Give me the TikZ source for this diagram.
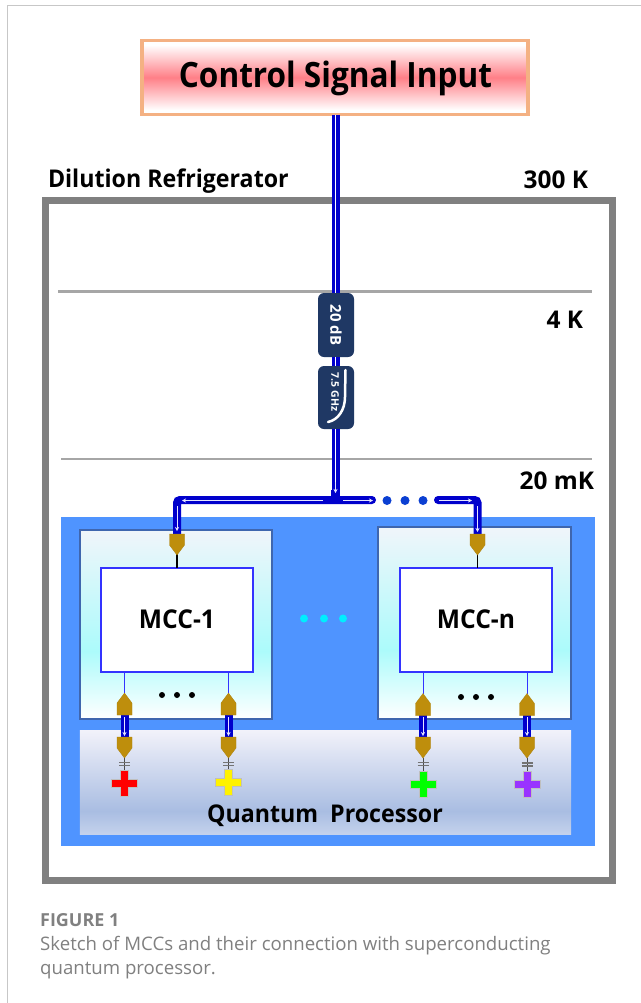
\documentclass[tikz,border=0pt]{standalone}
\usepackage{fontspec}
\setmainfont{Open Sans}
\newfontfamily\labfont[FakeStretch=0.95]{Open Sans}
\newfontfamily\ctrlfont[FakeStretch=0.905]{Open Sans}
\usetikzlibrary{arrows.meta,calc}
\definecolor{wireblue}{HTML}{0000CC}
\definecolor{panelblue}{HTML}{4F94FF}
\definecolor{gold}{HTML}{BE8E0C}
\definecolor{navy}{HTML}{1F3864}
\definecolor{capgray}{HTML}{808080}
\definecolor{qpb}{HTML}{C4D2EC}
\definecolor{qpm}{HTML}{A9BDE2}
\definecolor{qpt}{HTML}{F2F2FA}
\definecolor{ctrlpink}{HTML}{FF7F87}
\definecolor{ctrledge}{HTML}{F4B183}
\definecolor{mcccyan}{HTML}{ACFBFB}
\definecolor{mcctop}{HTML}{F0F5FA}
\definecolor{mccedge}{HTML}{3F66AE}
\definecolor{purplequbit}{HTML}{9933FF}
\definecolor{dotcyan}{HTML}{00EEFF}
\definecolor{dotblue}{HTML}{0B3FD2}
\pgfdeclareverticalshading{ctrlshade}{100bp}{color(0bp)=(white); color(25bp)=(white); color(28bp)=(white); color(50bp)=(ctrlpink); color(72bp)=(white); color(75bp)=(white); color(100bp)=(white)}
\pgfdeclareverticalshading{mccshade}{100bp}{color(0bp)=(white); color(25bp)=(white); color(43bp)=(mcccyan); color(75bp)=(mcctop); color(100bp)=(mcctop)}
\pgfdeclareverticalshading{qpshade}{100bp}{color(0bp)=(qpb); color(25bp)=(qpb); color(36bp)=(qpm); color(75bp)=(qpt); color(100bp)=(qpt)}
\tikzset{
  box/.style={rectangle,inner sep=0pt,outer sep=0pt},
  label/.style={inner sep=0pt,outer sep=0pt,font=\labfont\bfseries\fontsize{24.5}{28}\selectfont},
  templabel/.style={inner sep=0pt,outer sep=0pt,anchor=east,font=\bfseries\fontsize{24.5}{28}\selectfont},
  level/.style={draw=black!35,line width=2.5bp},
  mainwire/.style={draw=wireblue,line width=3.2bp,double=white,double distance=1.6bp},
  thick wire/.style={draw=wireblue,line width=8bp},
  flow/.style={draw=white!90!blue,line width=0.5bp,-{Stealth[length=4bp,width=4bp]}},
  hair/.style={draw=blue!80!white,line width=1bp},
  goldpart/.style={fill=gold,draw=gold!90!black,line width=0.3bp},
  mccbox/.style={box,draw=mccedge,line width=1.5bp,shading=mccshade},
  mccin/.style={box,draw=blue!80!white,line width=1.2bp,fill=white,minimum width=152bp,minimum height=104bp,font=\labfont\bfseries\fontsize{26}{28}\selectfont},
  plate/.style={draw=black!55,line width=1.3bp},
  dot/.style={circle,inner sep=0pt,outer sep=0pt,minimum size=#1},
  tag/.style={rounded corners=6bp,box,fill=navy,minimum width=36bp,minimum height=64bp,text=white},
  captext/.style={anchor=base west,inner sep=0pt,text=capgray,font=\fontsize{18.7}{20}\selectfont}
}
% x, prefix, MCC node, colour, cross top y, tip y, first plate y
\newcommand{\chainlink}[7]{%
  \coordinate (#2a) at (#1,#6);
  \coordinate (#2b) at (#1,715);
  \coordinate (#2c) at (#1,737);
  \coordinate (#2d) at (#1,758);
  \coordinate (#2e) at (#1,#5);
  \draw[hair] (#2a |- #3.south) -- (#2a);
  \draw[thick wire] (#2b) -- (#2c);
  \draw[flow] ($(#2b)+(0,2)$) -- ($(#2c)+(0,-1)$);
  \draw[goldpart] (#2a) -- ++(7.5,10) -- ++(0,12) -- ++(-15,0) -- ++(0,-12) -- cycle;
  \draw[goldpart] (#2d) -- ++(7.5,-10) -- ++(0,-11) -- ++(-15,0) -- ++(0,11) -- cycle;
  \draw[draw=black!70,line width=0.8bp] (#2d) -- (#2e);
  \draw[plate] (#1-5.5,#7) -- ++(11,0);
  \draw[plate] (#1-5.5,#7+3) -- ++(11,0);
  \draw[draw=black!25,fill=#4,line width=0.5bp] ($(#2e)+(-4,0)$) -- ++(8,0) -- ++(0,9) -- ++(9,0) -- ++(0,8) -- ++(-9,0) -- ++(0,9) -- ++(-8,0) -- ++(0,-9) -- ++(-9,0) -- ++(0,-8) -- ++(9,0) -- cycle;
}
\begin{document}
\begin{tikzpicture}[x=1bp,y=-1bp]
\useasboundingbox (0,0) rectangle (641,1003);
\fill[white] (0,0) rectangle (641,1003);
\coordinate (pagea) at (7.5,1003);
\coordinate (pageb) at (7.5,5.5);
\coordinate (pagec) at (641,5.5);
\draw[black!22,line width=1bp] (pagea) -- (pageb) -- (pagec);

\node[box,shading=ctrlshade,draw=ctrledge,line width=3.5bp,minimum width=386bp,minimum height=74bp] (ctrl) at (335,77.5) {};
\node[inner sep=0pt,outer sep=0pt,font=\ctrlfont\bfseries\fontsize{35}{38}\selectfont] (ctrltext) at (335.5,78) {Control Signal Input};
\node[label,anchor=west] (dil) at (48,181) {Dilution Refrigerator};
\node[templabel] (t300) at (588,180) {300 K};
\node[templabel] (t4) at (583,320) {4 K};
\node[templabel] (t20) at (594,481) {20 mK};

\node[box,draw=black!50,line width=7bp,minimum width=567bp,minimum height=680bp] (fridge) at (329,540.5) {};
\coordinate (l4a) at (58,291.5); \coordinate (l4b) at (592,291.5);
\coordinate (l20a) at (61,459); \coordinate (l20b) at (592,459);
\draw[level] (l4a) -- (l4b);
\draw[level] (l20a) -- (l20b);

\node[box,fill=panelblue,minimum width=534bp,minimum height=329bp] (panel) at (328,681.5) {};
\node[mccbox,minimum width=192bp,minimum height=189bp] (outer1) at (176,624.5) {};
\node[mccbox,minimum width=193bp,minimum height=192bp] (outern) at (474.5,623) {};
\node[box,shading=qpshade,minimum width=491bp,minimum height=104bp] (qp) at (325.5,782) {};
\node[label] (qptext) at (325,816) {Quantum\ \ Processor};
\node[mccin] (mcc1) at (177,620) {\raisebox{2pt}{MCC-1}};
\node[mccin] (mccn) at (476,620) {\raisebox{2pt}{MCC-n}};
\node[dot=8bp,fill=dotcyan] (c1) at (304,618.5) {};
\node[dot=8bp,fill=dotcyan] (c2) at (324,618.5) {};
\node[dot=8bp,fill=dotcyan] (c3) at (343,618.5) {};
\foreach \n/\x/\y in {a1/162/695,a2/177/695,a3/192/695,b1/461/697,b2/476/697,b3/491/697}
  \node[dot=6bp,fill=black] (\n) at (\x,\y) {};

% main wire
\coordinate (j) at (335.5,500);
\node[tag] (att) at (336,325) {};
\node[box,text=white,font=\bfseries\fontsize{15}{17}\selectfont,rotate=-90] (atttext) at (336,325) {20 dB};
\node[tag,minimum height=63bp] (fil) at (336,397.5) {};
\node[box,text=white,font=\bfseries\fontsize{10.5}{12}\selectfont,rotate=-90] (filtext) at (335,392) {7.5 GHz};
\coordinate (fa) at (345.5,370); \coordinate (fb) at (328,422);
\draw[white,line width=2.5bp,line cap=round] (fa) -- (345,397) .. controls (345,410) and (338,420) .. (fb);
\draw[mainwire] (ctrl.south -| j) -- (att.north -| j);
\draw[mainwire] (att.south -| j) -- (fil.north -| j);
\draw[mainwire] (fil.south -| j) -- (j);

% bus
\coordinate (tl) at (177,534);
\coordinate (cl) at (177,500);
\coordinate (bl) at (372,500);
\coordinate (br) at (438,500);
\coordinate (cr) at (477.5,500);
\coordinate (tr) at (477.5,534);
\draw[thick wire,rounded corners=3bp,line cap=round] (bl) -- (cl) -- (tl);
\draw[thick wire,rounded corners=3bp,line cap=round] (br) -- (cr) -- (tr);
\fill[wireblue] (331,490) rectangle (340,500);
\draw[flow] (335.5,482) -- (335.5,493);
\draw[flow] (323,500.5) -- (182,500.5);
\draw[flow] (343,500.5) -- (373,500.5);
\draw[flow] (439,500.5) -- (472,500.5);
\draw[flow] (177,506) -- (177,531);
\draw[flow] (477.5,506) -- (477.5,532);
\node[dot=9bp,fill=dotblue] (d1) at (387,500.5) {};
\node[dot=9bp,fill=dotblue] (d2) at (405,500.5) {};
\node[dot=9bp,fill=dotblue] (d3) at (423,500.5) {};

% top connectors
\draw[draw=black,line width=1.5bp] (tl) -- (mcc1.north -| tl);
\draw[draw=black,line width=1.5bp] (tr) -- (mccn.north -| tr);
\draw[goldpart] (tl) ++(-7.5,0) -- ++(15,0) -- ++(0,11) -- ++(-7.5,10) -- ++(-7.5,-10) -- cycle;
\draw[goldpart] (tr) ++(-7.5,0) -- ++(15,0) -- ++(0,11) -- ++(-7.5,10) -- ++(-7.5,-10) -- cycle;

% lower chains
\chainlink{124.5}{r}{mcc1}{red}{770}{693}{762.5}
\chainlink{228.5}{y}{mcc1}{yellow}{769}{693}{762.5}
\chainlink{423}{g}{mccn}{green}{771}{693.5}{762.5}
\chainlink{527}{v}{mccn}{purplequbit}{771}{693.5}{763}

% caption
\node[captext,font=\bfseries\fontsize{18}{20}\selectfont] (figlabel) at (40,926) {FIGURE 1};
\node[captext] (cap1) at (40,950) {Sketch of MCCs and their connection with superconducting};
\node[captext] (cap2) at (40,974) {quantum processor.};
\end{tikzpicture}
\end{document}
